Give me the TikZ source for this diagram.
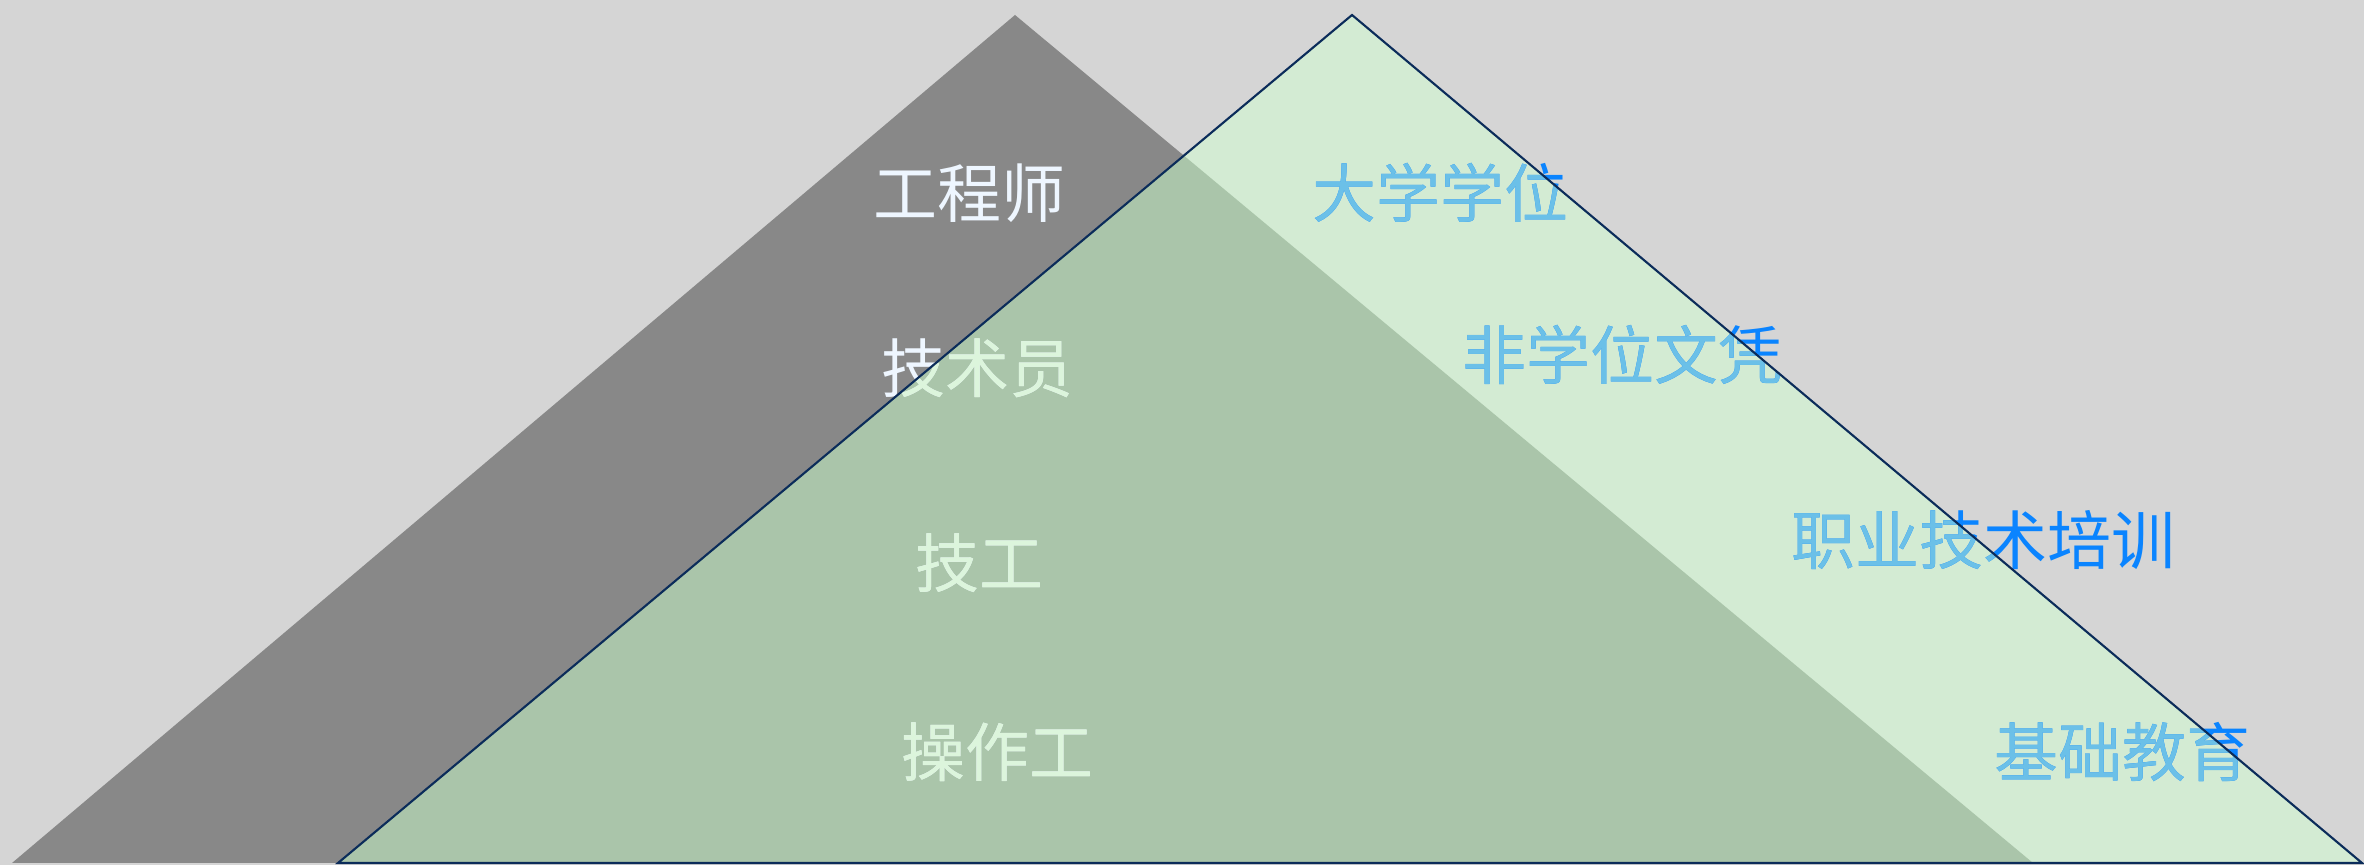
\documentclass[tikz,border=0pt]{standalone}
\usepackage{fontspec}
\newfontfamily\cjk{Noto Sans CJK SC}
\definecolor{bgc}{HTML}{D5D5D5}
\definecolor{grayt}{HTML}{888888}
\definecolor{greent}{HTML}{D3EBD3}
\definecolor{overl}{HTML}{AAC5AA}
\definecolor{edgec}{HTML}{0B2C5A}
\definecolor{whitet}{HTML}{EEF6FF}
\definecolor{paleg}{HTML}{DCF5DC}
\definecolor{lblue}{HTML}{6BC0E8}
\definecolor{bblue}{HTML}{0A84FF}
\tikzset{
  lbl/.style={inner sep=0pt, font=\cjk\fontsize{18.2}{20}\selectfont, anchor=center},
}
\begin{document}
\begin{tikzpicture}[x=0.01cm, y=-0.01cm]
\useasboundingbox (0,0) rectangle (2364,865);
\fill[bgc] (0,0) rectangle (2364,865);
% coordinates
\coordinate (ga) at (1015,15);
\coordinate (gl) at (12,863);
\coordinate (gr) at (2033,863);
\coordinate (ea) at (1352,15);
\coordinate (el) at (338,863);
\coordinate (er) at (2362,863);
% gray triangle
\fill[grayt] (ga) -- (gl) -- (gr) -- cycle;
% green triangle
\fill[greent] (ea) -- (el) -- (er) -- cycle;
\begin{scope}
  \clip (ga) -- (gl) -- (gr) -- cycle;
  \fill[overl] (ea) -- (el) -- (er) -- cycle;
\end{scope}
% texts outside colour
\node[lbl, text=whitet] (t1) at (969,193) {工程师};
\node[lbl, text=whitet] (t2) at (977,368) {技术员};
\node[lbl, text=whitet] (t3) at (979,563) {技工};
\node[lbl, text=whitet] (t4) at (997,752) {操作工};
\node[lbl, text=bblue] (r1) at (1440,193) {大学学位};
\node[lbl, text=bblue] (r2) at (1622,355) {非学位文凭};
\node[lbl, text=bblue] (r3) at (1983,540) {职业技术培训};
\node[lbl, text=bblue] (r4) at (2122,752) {基础教育};
% texts inside green triangle
\begin{scope}
  \clip (ea) -- (el) -- (er) -- cycle;
  \node[lbl, text=paleg] (t1c) at (969,193) {工程师};
  \node[lbl, text=paleg] (t2c) at (977,368) {技术员};
  \node[lbl, text=paleg] (t3c) at (979,563) {技工};
  \node[lbl, text=paleg] (t4c) at (997,752) {操作工};
  \node[lbl, text=lblue] (r1c) at (1440,193) {大学学位};
  \node[lbl, text=lblue] (r2c) at (1622,355) {非学位文凭};
  \node[lbl, text=lblue] (r3c) at (1983,540) {职业技术培训};
  \node[lbl, text=lblue] (r4c) at (2122,752) {基础教育};
\end{scope}
% outline
\draw[edgec, line width=0.6pt, line join=miter] (ea) -- (el) -- (er) -- cycle;
\end{tikzpicture}
\end{document}
